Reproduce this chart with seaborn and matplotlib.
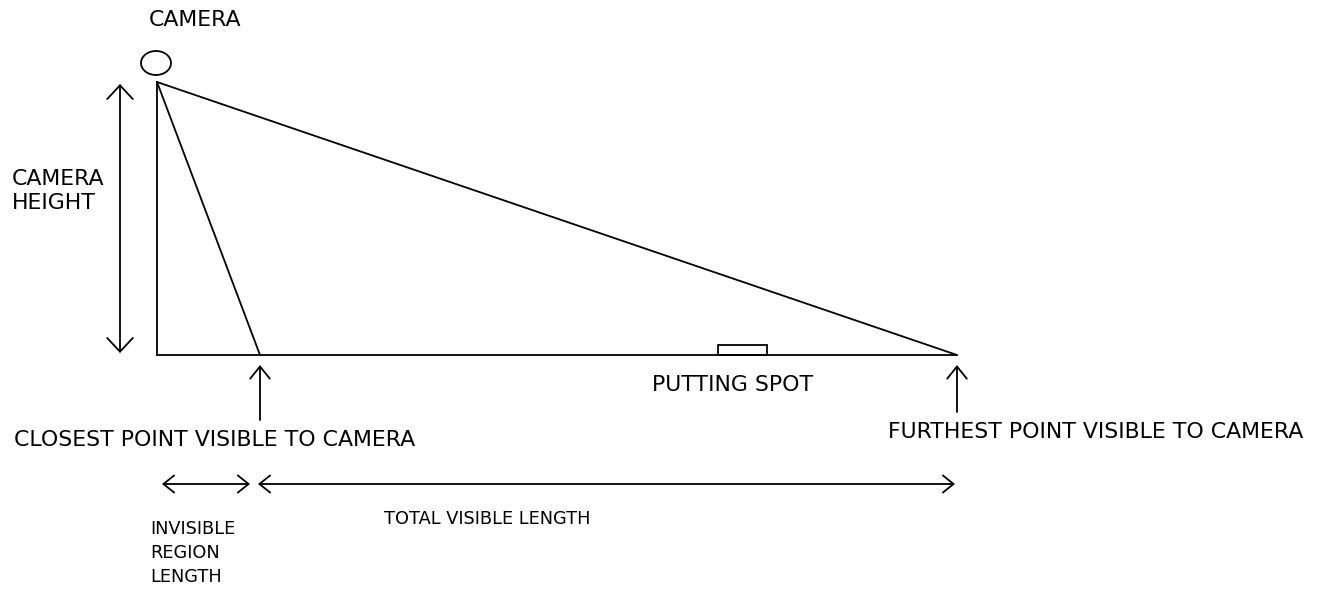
import matplotlib
matplotlib.use("Agg")
import matplotlib.pyplot as plt
from matplotlib.patches import Ellipse, Rectangle
import pandas as pd
import seaborn as sns

# diagram geometry in picture units (x right, y down)
camera_x = 157
camera_top = 82
ground_y = 355
closest_x = 260
furthest_x = 957
spot_x = [718, 767]
spot_h = 10
height_arrow_x = 120
span_arrow_y = 484

labels = ["CAMERA", "CAMERA\nHEIGHT", "PUTTING SPOT",
          "CLOSEST POINT VISIBLE TO CAMERA", "FURTHEST POINT VISIBLE TO CAMERA",
          "INVISIBLE\nREGION\nLENGTH", "TOTAL VISIBLE LENGTH"]

sns.set_theme(style="white")
plt.rcParams['font.family'] = ['DejaVu Sans']

fig = plt.figure(figsize=(13.17, 5.91), dpi=100)
ax = fig.add_axes([0, 0, 1, 1])

# triangle: vertical post, ground, and the two sight lines
seg = pd.DataFrame({
    'x': [camera_x, camera_x, camera_x, furthest_x, camera_x, closest_x, camera_x, furthest_x],
    'y': [camera_top, ground_y, ground_y, ground_y, camera_top, ground_y, camera_top, ground_y],
    'part': ['post', 'post', 'ground', 'ground', 'near', 'near', 'far', 'far'],
})
sns.lineplot(data=seg, x='x', y='y', units='part', estimator=None, sort=False,
             color='black', lw=1.3, ax=ax, legend=False)
ax.set_xlim(0, 1317)
ax.set_ylim(591, 0)
ax.axis('off')

# camera
ax.add_patch(Ellipse((camera_x - 1, 63), 30, 24, fill=False, ec='black', lw=1.3))

# putting spot
ax.add_patch(Rectangle((spot_x[0], ground_y - spot_h), spot_x[1] - spot_x[0], spot_h,
                       fill=False, ec='black', lw=1.3))

up = dict(arrowstyle='->,head_length=0.4,head_width=0.32', color='black', lw=1.3,
          mutation_scale=22, shrinkA=0, shrinkB=0)
tall = dict(up, arrowstyle='<->,head_length=0.45,head_width=0.42')
side = dict(up, arrowstyle='<->,head_length=0.35,head_width=0.28')

# camera height
ax.annotate('', xy=(height_arrow_x, camera_top + 2), xytext=(height_arrow_x, ground_y - 2),
            arrowprops=tall)
# closest / furthest pointers
ax.annotate('', xy=(closest_x, ground_y + 10), xytext=(closest_x, 420), arrowprops=up)
ax.annotate('', xy=(furthest_x, ground_y + 10), xytext=(furthest_x, 412), arrowprops=up)
# length spans
ax.annotate('', xy=(162, span_arrow_y), xytext=(250, span_arrow_y), arrowprops=side)
ax.annotate('', xy=(258, span_arrow_y), xytext=(955, span_arrow_y), arrowprops=side)

big = 15.8
small = 12.8
txt = dict(color='black', va='center')
ax.text(195, 20, labels[0], ha='center', fontsize=big, **txt)
ax.text(12, 191, labels[1], ha='left', fontsize=big, linespacing=1.2, **txt)
ax.text(733, 385, labels[2], ha='center', fontsize=big, **txt)
ax.text(14, 440, labels[3], ha='left', fontsize=big, **txt)
ax.text(888, 432, labels[4], ha='left', fontsize=big, **txt)
ax.text(150, 553, labels[5], ha='left', fontsize=small, linespacing=1.4, **txt)
ax.text(487, 519, labels[6], ha='center', fontsize=small, **txt)

fig.savefig('out.png', dpi=100, facecolor='white')
